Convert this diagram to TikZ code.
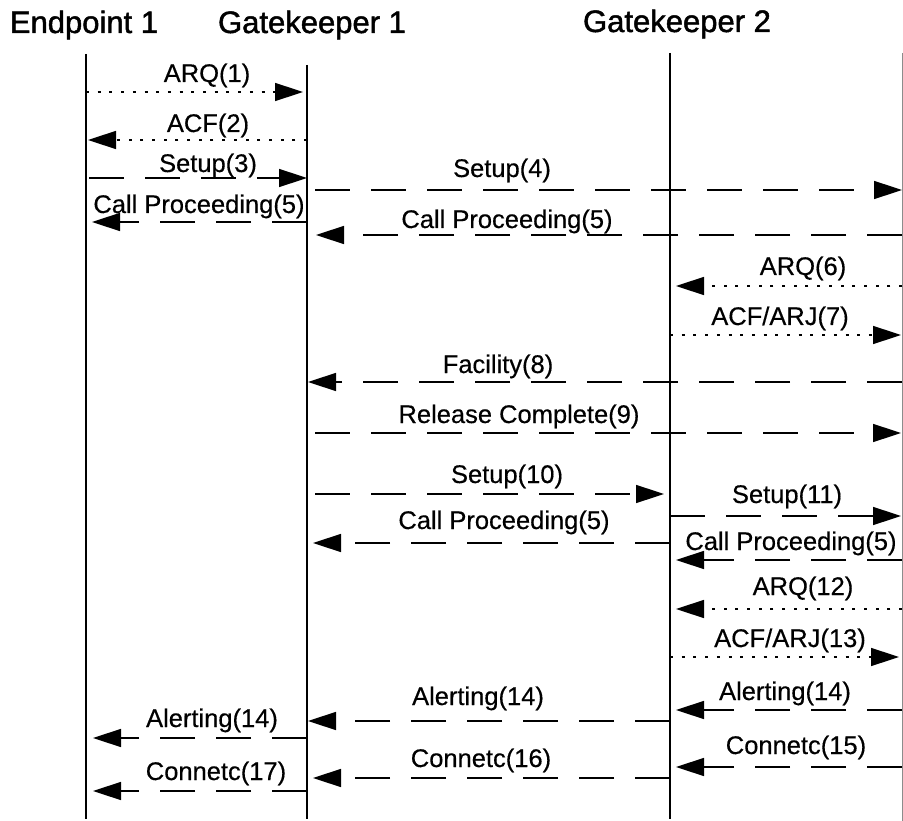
\documentclass[tikz,border=0pt]{standalone}
\usepackage{fontspec}
\setmainfont{Liberation Sans}
\newfontfamily\hdrfont[FakeBold=1.5]{Liberation Sans}
\newfontfamily\lblfont[FakeBold=0.4]{Liberation Sans}
\usetikzlibrary{arrows.meta,calc}
\begin{document}
\begin{tikzpicture}[x=1pt,y=-1pt,
  lifeline/.style={line width=2pt},
  farline/.style={line width=1pt,draw=black!45},
  msg/.style={line width=1.5pt,-{Triangle[length=28pt,width=18pt]}},
  dsh/.style={msg,dash pattern=on 35pt off 21pt},
  dtt/.style={msg,dash pattern=on 3pt off 8.7pt},
  lbl/.style={font=\lblfont\fontsize{25.5}{28}\selectfont,anchor=base,inner sep=0pt},
  hdr/.style={font=\hdrfont\fontsize{31}{34}\selectfont,anchor=base,inner sep=0pt}]
\useasboundingbox (0,0) rectangle (903,821);
% headers
\node[hdr] (hEP) at (84,33) {Endpoint 1};
\node[hdr] (hG1) at (312,33) {Gatekeeper 1};
\node[hdr] (hG2) at (677,32) {Gatekeeper 2};
% lifelines
\coordinate (EP) at (86,54);
\coordinate (G1) at (307,65);
\coordinate (G2) at (670,53);
\coordinate (G3) at (902,53);
\coordinate (bot) at (0,819);
\draw[lifeline] (EP) -- (EP |- bot);
\draw[lifeline] (G1) -- (G1 |- bot);
\draw[lifeline] (G2) -- (G2 |- bot);
\draw[farline] (G3) -- (G3 |- 0,821);
% messages
\draw[dtt] (EP |- 0,92) -- ($(G1 |- 0,92)+(-4,0)$);
\node[lbl] (m1) at (207,82) {ARQ(1)};
\draw[dtt] (G1 |- 0,140) -- ($(EP |- 0,140)+(2,0)$);
\node[lbl] (m2) at (208,132) {ACF(2)};
\draw[dsh] ($(EP |- 0,178)+(3,0)$) -- (G1 |- 0,178);
\node[lbl] (m3) at (208,172) {Setup(3)};
\draw[dsh] ($(G1 |- 0,190)+(8,0)$) -- (G3 |- 0,190);
\node[lbl] (m4) at (502,177) {Setup(4)};
\draw[dsh] (G1 |- 0,222) -- ($(EP |- 0,222)+(6,0)$);
\node[lbl] (m5a) at (199,213) {Call Proceeding(5)};
\draw[dsh] (G3 |- 0,235) -- ($(G1 |- 0,235)+(9,0)$);
\node[lbl] (m5b) at (507,228) {Call Proceeding(5)};
\draw[dtt] (G3 |- 0,286) -- ($(G2 |- 0,286)+(6,0)$);
\node[lbl] (m6) at (803,275) {ARQ(6)};
\draw[dtt] (G2 |- 0,335) -- ($(G3 |- 0,335)+(-1,0)$);
\node[lbl] (m7) at (780,325) {ACF/ARJ(7)};
\draw[dsh] (G3 |- 0,382) -- ($(G1 |- 0,382)+(1,0)$);
\node[lbl] (m8) at (498,373) {Facility(8)};
\draw[dsh] ($(G1 |- 0,433)+(8,0)$) -- ($(G3 |- 0,433)+(-1,0)$);
\node[lbl] (m9) at (519,423) {Release Complete(9)};
\draw[dsh] ($(G1 |- 0,494)+(8,0)$) -- ($(G2 |- 0,494)+(-6,0)$);
\node[lbl] (m10) at (507,483) {Setup(10)};
\draw[dsh] (G2 |- 0,516) -- ($(G3 |- 0,516)+(-1,0)$);
\node[lbl] (m11) at (787,503) {Setup(11)};
\draw[dsh] (G2 |- 0,543) -- ($(G1 |- 0,543)+(6,0)$);
\node[lbl] (m5c) at (504,529) {Call Proceeding(5)};
\draw[dsh] (G3 |- 0,560) -- ($(G2 |- 0,560)+(6,0)$);
\node[lbl] (m5d) at (791,550) {Call Proceeding(5)};
\draw[dtt] (G3 |- 0,609) -- ($(G2 |- 0,609)+(6,0)$);
\node[lbl] (m12) at (803,595) {ARQ(12)};
\draw[dtt] (G2 |- 0,657) -- ($(G3 |- 0,657)+(-3,0)$);
\node[lbl] (m13) at (790,647) {ACF/ARJ(13)};
\draw[dsh] (G3 |- 0,710) -- ($(G2 |- 0,710)+(6,0)$);
\node[lbl] (m14a) at (785,700) {Alerting(14)};
\draw[dsh] (G2 |- 0,721) -- ($(G1 |- 0,721)+(1,0)$);
\node[lbl] (m14b) at (478,705) {Alerting(14)};
\draw[dsh] (G1 |- 0,738) -- ($(EP |- 0,738)+(7,0)$);
\node[lbl] (m14c) at (212,727) {Alerting(14)};
\draw[dsh] (G3 |- 0,767) -- ($(G2 |- 0,767)+(6,0)$);
\node[lbl] (m15) at (796,754) {Connetc(15)};
\draw[dsh] (G2 |- 0,778) -- ($(G1 |- 0,778)+(6,0)$);
\node[lbl] (m16) at (481,767) {Connetc(16)};
\draw[dsh] (G1 |- 0,791) -- ($(EP |- 0,791)+(7,0)$);
\node[lbl] (m17) at (216,780) {Connetc(17)};
\end{tikzpicture}
\end{document}
